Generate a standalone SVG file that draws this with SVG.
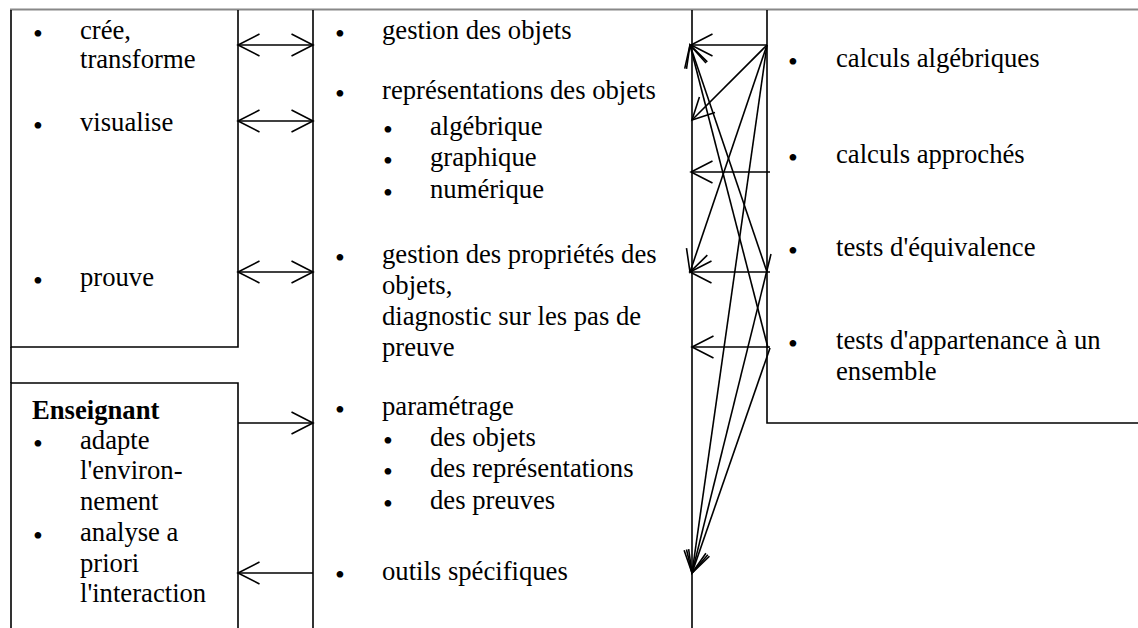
<svg xmlns="http://www.w3.org/2000/svg" width="1138" height="628" viewBox="0 0 1138 628">
<style>
.t{font-family:"Liberation Serif","Times New Roman",serif;font-size:26.67px;fill:#000}
.b{font-weight:bold}
.bu{font-family:"Liberation Serif","Times New Roman",serif;font-size:28px;fill:#000}
.frame{fill:none;stroke:#000;stroke-width:1.6}
.top{fill:none;stroke:#888;stroke-width:2}
.c{fill:none;stroke:#000;stroke-width:1.6}
</style>
<defs>
<marker id="ah" markerUnits="userSpaceOnUse" orient="auto-start-reverse" refX="0" refY="0" markerWidth="30" markerHeight="30" overflow="visible">
<path d="M-21.5,-11 L0,0 L-21.5,11" fill="none" stroke="#000" stroke-width="1.6"/>
</marker>
</defs>
<rect width="1138" height="628" fill="#fff"/>
<path class="top" d="M10,9.5 H1138"/>
<g id="eleve">
<path class="frame" d="M11,10 V347 H238 V10"/>
<path class="frame" d="M11,347 V383"/>
<text class="bu" x="33" y="42.5">•</text><text class="t" x="80" y="39">crée,</text>
<text class="t" x="80" y="68">transforme</text>
<text class="bu" x="33" y="134.5">•</text><text class="t" x="80" y="131">visualise</text>
<text class="bu" x="33" y="289.5">•</text><text class="t" x="80" y="286">prouve</text>
</g>
<g id="enseignant">
<path class="frame" d="M11,628 V383 H238 V628"/>
<text class="t b" x="32" y="419">Enseignant</text>
<text class="bu" x="33" y="452.5">•</text><text class="t" x="80" y="449">adapte</text>
<text class="t" x="80" y="479">l'environ-</text>
<text class="t" x="80" y="510">nement</text>
<text class="bu" x="33" y="544.5">•</text><text class="t" x="80" y="541">analyse a</text>
<text class="t" x="80" y="572">priori</text>
<text class="t" x="80" y="602">l'interaction</text>
</g>
<g id="environnement">
<path class="frame" d="M313,10 V628 M692,10 V628"/>
<text class="bu" x="335" y="42.5">•</text><text class="t" x="382" y="39">gestion des objets</text>
<text class="bu" x="335" y="102.5">•</text><text class="t" x="382" y="99">représentations des objets</text>
<text class="bu" x="383" y="138.5">•</text><text class="t" x="430" y="135">algébrique</text>
<text class="bu" x="383" y="169.5">•</text><text class="t" x="430" y="166">graphique</text>
<text class="bu" x="383" y="201.5">•</text><text class="t" x="430" y="198">numérique</text>
<text class="bu" x="335" y="266.5">•</text><text class="t" x="382" y="263">gestion des propriétés des</text>
<text class="t" x="382" y="294">objets,</text>
<text class="t" x="382" y="325">diagnostic sur les pas de</text>
<text class="t" x="382" y="356">preuve</text>
<text class="bu" x="335" y="418.5">•</text><text class="t" x="382" y="415">paramétrage</text>
<text class="bu" x="383" y="449.5">•</text><text class="t" x="430" y="446">des objets</text>
<text class="bu" x="383" y="480.5">•</text><text class="t" x="430" y="477">des représentations</text>
<text class="bu" x="383" y="512.5">•</text><text class="t" x="430" y="509">des preuves</text>
<text class="bu" x="335" y="583.5">•</text><text class="t" x="382" y="580">outils spécifiques</text>
</g>
<g id="calcul">
<path class="frame" d="M767,10 V423 H1138"/>
<text class="bu" x="788" y="70.5">•</text><text class="t" x="836" y="67">calculs algébriques</text>
<text class="bu" x="788" y="166.5">•</text><text class="t" x="836" y="163">calculs approchés</text>
<text class="bu" x="788" y="259.5">•</text><text class="t" x="836" y="256">tests d'équivalence</text>
<text class="bu" x="788" y="352.5">•</text><text class="t" x="836" y="349">tests d'appartenance à un</text>
<text class="t" x="836" y="380">ensemble</text>
</g>
<g id="connectors">
<path class="c" d="M238,45 H313" marker-start="url(#ah)" marker-end="url(#ah)"/>
<path class="c" d="M238,121 H313" marker-start="url(#ah)" marker-end="url(#ah)"/>
<path class="c" d="M238,272 H313" marker-start="url(#ah)" marker-end="url(#ah)"/>
<path class="c" d="M238,423 H313" marker-end="url(#ah)"/>
<path class="c" d="M313,573 H238" marker-end="url(#ah)"/>
<path class="c" d="M767,45 L691,45" marker-end="url(#ah)"/>
<path class="c" d="M767,45 L692,120" marker-end="url(#ah)"/>
<path class="c" d="M767,45 L690,272" marker-end="url(#ah)"/>
<path class="c" d="M767,45 L692,573" marker-end="url(#ah)"/>
<path class="c" d="M770,172 L691,172" marker-end="url(#ah)"/>
<path class="c" d="M767,272 L690,45" marker-end="url(#ah)"/>
<path class="c" d="M770,272 L690,272" marker-end="url(#ah)"/>
<path class="c" d="M771,254 L692,573" marker-end="url(#ah)"/>
<path class="c" d="M768,348 L690,45" marker-end="url(#ah)"/>
<path class="c" d="M770,347 L692,347" marker-end="url(#ah)"/>
<path class="c" d="M770,348 L692,573" marker-end="url(#ah)"/>
</g>
</svg>
